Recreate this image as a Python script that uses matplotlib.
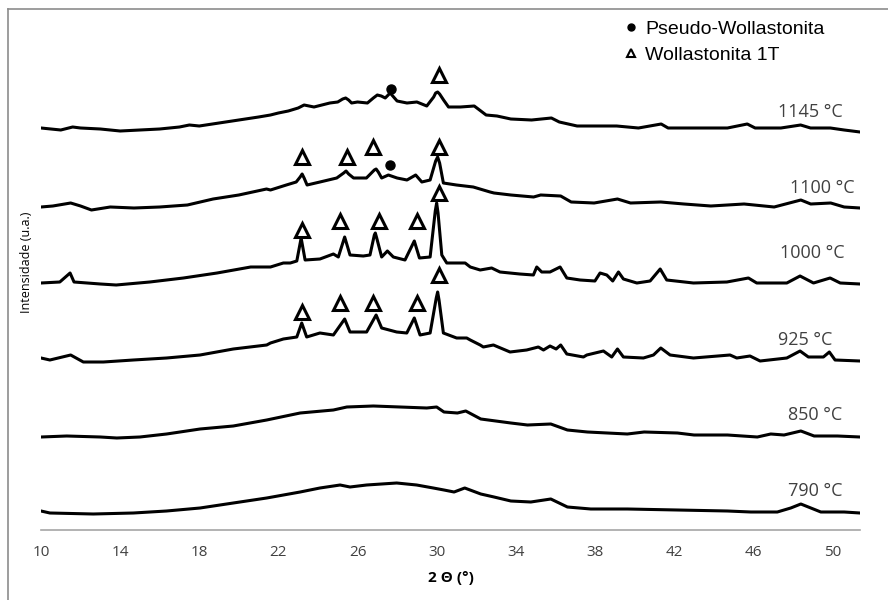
import matplotlib.pyplot as plt
from matplotlib.lines import Line2D

# XRD patterns: (2 theta, intensity above its own baseline)
p1145 = [(10.0, 0), (11.0, -2), (11.6, 1), (12.0, 0), (13.0, -1), (14.0, -3), (15.0, -2), (16.0, -1),
         (17.0, 1), (17.5, 3), (18.0, 2), (19.0, 5), (20.0, 8), (21.0, 11), (21.6, 13), (22.0, 15),
         (22.5, 17), (23.0, 20), (23.3, 23), (23.8, 21), (24.6, 25), (25.0, 26), (25.25, 29), (25.4, 30),
         (25.55, 28), (25.7, 25), (26.0, 26), (26.5, 25), (26.8, 30), (27.0, 33), (27.2, 32), (27.4, 30),
         (27.65, 35), (28.0, 27), (28.5, 25), (29.0, 26), (29.5, 22), (29.85, 31), (29.95, 35),
         (30.05, 36), (30.15, 34), (30.35, 28), (30.6, 21), (30.9, 21), (31.2, 21), (31.9, 22),
         (32.5, 13), (33.05, 12), (33.75, 9), (34.8, 8), (35.8, 10), (36.2, 6), (37.1, 2), (38.1, 2),
         (39.1, 2), (40.2, 0), (41.35, 4), (41.7, 0), (43.0, 0), (44.7, 0), (45.7, 4), (46.1, 0),
         (47.4, 0), (48.4, 3), (48.9, 0), (49.9, 0), (50.6, -2), (51.4, -4)]
p1100 = [(10.0, 0), (10.6, 1), (11.5, 4), (12.0, 1), (12.55, -3), (13.5, 0), (14.7, -1), (16.0, 0),
         (17.4, 2), (18.7, 8), (20.0, 12), (21.4, 18), (21.6, 17), (22.4, 22), (22.9, 25), (23.1, 30),
         (23.2, 33), (23.3, 29), (23.45, 22), (24.1, 25), (24.95, 29), (25.3, 34), (25.42, 36),
         (25.55, 33), (25.8, 29), (26.45, 29), (26.85, 37), (26.94, 38), (27.05, 35), (27.22, 29),
         (27.56, 32), (28.0, 29), (28.5, 27), (28.94, 32), (29.25, 25), (29.67, 27), (29.95, 46),
         (30.05, 50), (30.15, 44), (30.34, 24), (31.0, 22), (31.85, 20), (32.7, 15), (32.9, 14),
         (33.75, 12), (34.9, 10), (35.26, 12), (36.27, 11), (36.8, 5), (37.96, 4), (39.14, 8), (39.8, 4),
         (41.33, 5), (42.5, 3), (43.86, 1), (45.54, 3), (47.06, 0), (48.41, 7), (48.91, 3), (49.92, 4),
         (50.6, 0), (51.4, -1)]
p1000 = [(10.0, 0), (10.95, 1), (11.47, 10), (11.67, 1), (13.0, -1), (13.8, -2), (15.5, 1), (17.2, 5),
         (18.9, 10), (20.6, 16), (21.6, 16), (22.25, 20), (22.6, 20), (22.93, 22), (23.15, 45), (23.35, 23),
         (24.1, 24), (24.78, 29), (25.03, 26), (25.35, 46), (25.62, 28), (26.29, 27), (26.63, 28),
         (26.85, 48), (26.9, 50), (26.97, 45), (27.22, 26), (27.51, 32), (27.81, 26), (28.4, 23),
         (28.87, 42), (29.13, 25), (29.67, 26), (29.93, 72), (30.0, 80), (30.07, 70), (30.26, 28),
         (30.51, 20), (31.44, 20), (31.7, 16), (32.2, 13), (32.78, 15), (33.2, 11), (34.2, 9), (34.89, 8),
         (35.06, 16), (35.31, 11), (35.73, 11), (36.24, 16), (36.58, 5), (37.25, 3), (38.0, 2), (38.26, 10),
         (38.6, 8), (38.9, 2), (39.19, 11), (39.44, 4), (40.12, 0), (40.79, 2), (41.3, 14), (41.63, 3),
         (42.98, 0), (44.67, 1), (45.76, 5), (46.18, 0), (47.7, 0), (48.37, 7), (49.05, 0), (49.89, 5),
         (50.4, 0), (51.4, -1)]
p925 = [(10.0, 0), (10.45, -2), (11.5, 3), (12.14, -4), (13.15, -4), (14.67, -2), (16.35, 0), (18.04, 3),
        (19.72, 9), (21.41, 13), (21.6, 15), (22.25, 19), (22.93, 21), (23.18, 35), (23.43, 21),
        (24.1, 25), (24.78, 23), (25.35, 39), (25.62, 26), (26.46, 26), (26.94, 43), (27.22, 30),
        (27.98, 26), (28.49, 25), (28.87, 40), (29.16, 23), (29.67, 25), (29.98, 60), (30.05, 66),
        (30.12, 58), (30.34, 25), (31.01, 20), (31.52, 20), (31.7, 18), (32.2, 13), (32.36, 11),
        (32.87, 13), (33.71, 6), (34.55, 8), (35.14, 11), (35.4, 8), (35.73, 12), (36.04, 9), (36.27, 13),
        (36.58, 4), (37.42, 1), (37.59, 3), (38.43, 7), (38.85, 1), (39.14, 9), (39.44, 1), (40.45, 0),
        (40.96, 3), (41.33, 10), (41.8, 3), (42.98, 0), (44.83, 3), (45.17, 0), (45.84, 2), (46.35, -3),
        (47.7, 0), (48.37, 7), (48.79, 1), (49.55, 1), (49.85, 6), (50.14, -2), (51.4, -3)]
p850 = [(10.0, 0), (11.3, 1), (13.0, 0), (13.83, -1), (15.0, 0), (16.35, 3), (18.04, 8), (19.72, 11),
        (21.41, 17), (23.1, 24), (24.78, 27), (25.46, 30), (26.8, 31), (28.15, 30), (29.5, 29),
        (30.0, 30), (30.37, 25), (31.05, 24), (31.47, 26), (32.23, 18), (33.75, 14), (34.59, 12),
        (35.77, 13), (36.61, 7), (37.62, 5), (39.64, 3), (40.49, 5), (42.17, 4), (43.01, 2), (44.7, 2),
        (46.21, 0), (46.89, 3), (47.56, 2), (48.41, 6), (49.08, 1), (50.26, 1), (51.4, 0)]
p790 = [(10.0, 1), (10.45, -1), (12.64, -2), (14.67, -1), (16.35, 1), (18.04, 4), (19.72, 9), (21.41, 14),
        (23.1, 20), (24.1, 24), (25.12, 27), (25.62, 25), (26.46, 27), (27.98, 29), (28.99, 27),
        (29.83, 24), (30.37, 22), (30.88, 20), (31.42, 24), (32.23, 18), (32.9, 15), (33.75, 11),
        (34.76, 10), (35.77, 13), (36.61, 5), (37.79, 3), (39.64, 3), (42.17, 2), (44.7, 1), (45.88, 0),
        (47.22, 0), (47.9, 4), (48.41, 8), (49.42, 0), (50.6, 0), (51.4, -1)]

temps = ['1145 °C', '1100 °C', '1000 °C', '925 °C', '850 °C', '790 °C']
patterns = [p1145, p1100, p1000, p925, p850, p790]
offsets = [402, 323, 247, 172, 93, 18]

# phase markers: (2 theta, height above baseline)
wol_1t = [[(30.12, 53)],
          [(23.21, 50), (25.45, 50), (26.77, 60), (30.12, 60)],
          [(23.18, 53), (25.12, 62), (27.1, 62), (28.99, 62), (30.12, 90)],
          [(23.21, 46), (25.12, 55), (26.77, 55), (28.99, 55), (30.12, 83)],
          [], []]
pseudo = [[(27.68, 39)], [(27.65, 42)], [], [], [], []]

label_pos = [(50.55, 418), (51.15, 342), (50.6, 277), (49.99, 190), (50.5, 115), (50.5, 39)]

fig = plt.figure(figsize=(8.88, 6), dpi=100)
ax = fig.add_axes([41/888, 70/600, 819/888, 521/600])

for pat, off, tri, dot in zip(patterns, offsets, wol_1t, pseudo):
    x = [p[0] for p in pat]
    y = [p[1] + off for p in pat]
    ax.plot(x, y, color='black', lw=2.2, solid_joinstyle='round')
    if tri:
        ax.plot([t[0] for t in tri], [t[1] + off for t in tri], ls='none', marker='^',
                ms=9.5, mfc='white', mec='black', mew=2.2)
    if dot:
        ax.plot([d[0] for d in dot], [d[1] + off for d in dot], ls='none', marker='o',
                ms=6.5, color='black')

for name, (lx, ly) in zip(temps, label_pos):
    ax.text(lx, ly, name, ha='right', va='center', fontsize=13, color='#404040', family='Open Sans')

ax.set_xlim(10, 51.4)
ax.set_ylim(0, 521)
ax.set_xticks(range(10, 51, 4))
ax.set_yticks([])
for s in ['top', 'right', 'left']:
    ax.spines[s].set_visible(False)
ax.spines['bottom'].set_color('#a6a6a6')
ax.spines['bottom'].set_linewidth(1.2)
ax.tick_params(axis='x', length=0, pad=11, labelsize=11, labelcolor='#404040')
for lab in ax.get_xticklabels():
    lab.set_family('Open Sans')

ax.set_xlabel('2 Θ (°)', fontsize=11, fontweight='bold', family='Open Sans', labelpad=8)
fig.text(26/888, 1 - 262/600, 'Intensidade (u.a.)', rotation=90, ha='center', va='center',
         fontsize=9, family='Open Sans')

handles = [Line2D([], [], ls='none', marker='o', ms=5, color='black'),
           Line2D([], [], ls='none', marker='^', ms=6, mfc='white', mec='black', mew=1.5)]
ax.legend(handles, ['Pseudo-Wollastonita', 'Wollastonita 1T'], loc='upper left',
          bbox_to_anchor=(624/888, 1 - 20/600), bbox_transform=fig.transFigure,
          frameon=False, prop={'family': 'Liberation Sans', 'size': 14},
          handlelength=0.7, handletextpad=0.4, labelspacing=0.45, borderpad=0, borderaxespad=0)

# partial frame of the original picture
fig.add_artist(Line2D([8/888, 8/888], [0, 1 - 9/600], color='#8c8c8c', lw=1.2, transform=fig.transFigure))
fig.add_artist(Line2D([8/888, 1], [1 - 9/600, 1 - 9/600], color='#8c8c8c', lw=1.2, transform=fig.transFigure))

plt.savefig('out.png', dpi=100)
